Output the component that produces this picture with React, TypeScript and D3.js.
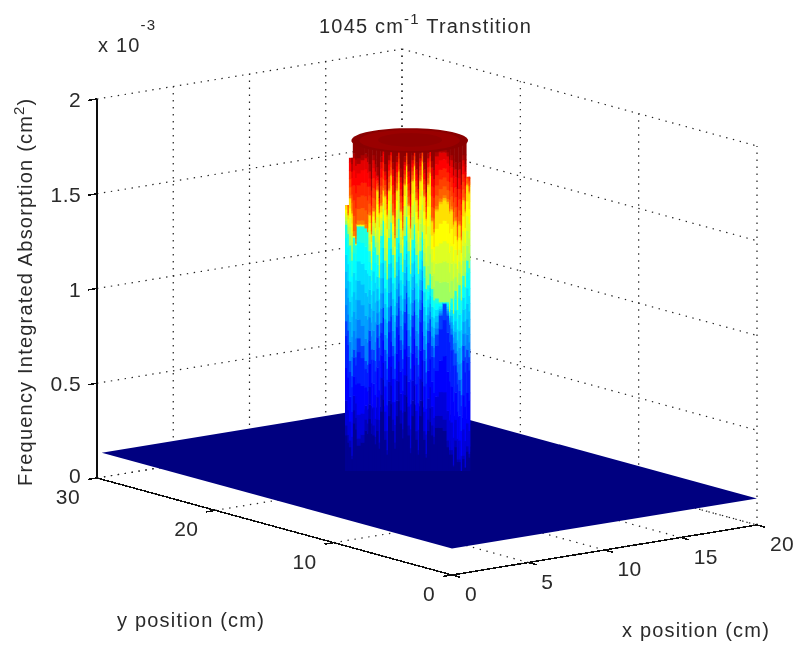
import React from "react";
import * as d3 from "d3";

const xTicks = [0, 5, 10, 15, 20];
const yTicks = [0, 10, 20, 30];
const zTicks = [0, 0.5, 1, 1.5, 2];
const zTickLabels = ["0", "0.5", "1", "1.5", "2"];
const plateZ = 0.14;
const plateYMax = 29.6;
const columnCenter = { x: 12.28, y: 19.4, r: 3.02, top: 1.8 };

// Heights (x 10^-3) of the colour transitions on each visible column of the peak, left to right
const columnTop = [1.54, 1.79, 1.88, 1.88, 1.88, 1.88, 1.88, 1.88, 1.88, 1.88, 1.88, 1.88, 1.88, 1.88, 1.88, 1.88, 1.88, 1.88, 1.88, 1.88, 1.88, 1.88, 1.88, 1.88, 1.88, 1.88, 1.88, 1.88, 1.88, 1.88, 1.87, 1.69];
const darkRedEdge = [1.72, 1.80, 1.79, 1.76, 1.78, 1.79, 1.72, 1.78, 1.70, 1.77, 1.72, 1.78, 1.73, 1.77, 1.69, 1.77, 1.72, 1.78, 1.73, 1.79, 1.73, 1.79, 1.74, 1.80, 1.82, 1.82, 1.80, 1.78, 1.73, 1.73, 1.78, 1.78];
const orangeEdge = [1.54, 1.58, 1.38, 1.44, 1.44, 1.42, 1.49, 1.51, 1.62, 1.54, 1.59, 1.62, 1.49, 1.62, 1.51, 1.65, 1.54, 1.67, 1.57, 1.67, 1.59, 1.65, 1.46, 1.52, 1.56, 1.58, 1.56, 1.52, 1.46, 1.44, 1.57, 1.65];
const greenEdge = [1.44, 1.33, 1.37, 1.43, 1.43, 1.42, 1.30, 1.38, 1.28, 1.38, 1.25, 1.37, 1.28, 1.37, 1.29, 1.38, 1.30, 1.36, 1.28, 1.30, 1.22, 1.12, 1.10, 1.05, 1.03, 1.03, 1.03, 1.05, 1.09, 1.12, 1.17, 1.25];
const cyanEdge = [0.93, 0.72, 0.78, 0.84, 0.80, 0.72, 0.88, 0.78, 0.91, 0.92, 0.78, 0.93, 0.80, 0.96, 0.83, 0.98, 0.80, 0.96, 0.80, 0.99, 0.78, 0.88, 0.80, 0.86, 0.96, 1.02, 0.96, 0.86, 0.76, 0.62, 0.80, 0.78];
const blueEdge = [0.38, 0.30, 0.46, 0.31, 0.33, 0.41, 0.49, 0.38, 0.41, 0.54, 0.35, 0.51, 0.41, 0.51, 0.46, 0.54, 0.38, 0.51, 0.35, 0.51, 0.35, 0.41, 0.38, 0.43, 0.43, 0.41, 0.30, 0.25, 0.30, 0.20, 0.22, 0.27];
// How far the narrow spike beside each column pushes its colours down (+) or up (-)
const spikeShift = [0.05, 0.08, 0.04, 0, 0, 0.02, 0.1, 0.06, 0.12, -0.08, 0.1, -0.08, 0.12, -0.1, 0.1, -0.1, 0.12, -0.08, 0.1, -0.1, 0.12, -0.06, 0.06, 0, 0, 0, 0.05, 0.08, 0.1, 0.08, 0.06, 0.04];
const bandLevels = [0, 0.04, 0.07, 0.17, 0.22, 0.4, 0.5, 0.66, 0.74, 0.9, 0.96, 1];
const levelCount = 32;

const jet = d3
  .scaleLinear<string>()
  .domain([0, 0.11, 0.36, 0.61, 0.86, 1])
  .range(["#000080", "#0000ff", "#00ffff", "#ffff00", "#ff0000", "#800000"]);

const originX = 452;
const originY = 575;
const xSX = d3.scaleLinear().domain([0, 20]).range([0, 305]);
const xSY = d3.scaleLinear().domain([0, 20]).range([0, -50]);
const ySX = d3.scaleLinear().domain([0, 30]).range([0, -355]);
const ySY = d3.scaleLinear().domain([0, 30]).range([0, -97]);
const zS = d3.scaleLinear().domain([0, 2]).range([0, -379]);
const project = (x: number, y: number, z: number): [number, number] => [
  originX + xSX(x) + ySX(y),
  originY + xSY(x) + ySY(y) + zS(z),
];
const columnBand = d3.scaleBand<number>().domain(d3.range(columnTop.length)).range([345, 470]);
const columnY = d3.scaleLinear().domain([0, 2]).range([497, 118]);
const poly = d3.line<[number, number]>();
const seg = (a: [number, number], b: [number, number]) => poly([a, b]) as string;

const FONT = "'Liberation Sans', Arial, sans-serif";

function ellipse(scale: number, dx = 0, dy = 0, z = columnCenter.top) {
  const pts = d3.range(0, 64).map((i) => {
    const t = (i / 64) * Math.PI * 2;
    return project(
      columnCenter.x + dx + columnCenter.r * scale * Math.cos(t),
      columnCenter.y + dy + columnCenter.r * scale * Math.sin(t),
      z
    );
  });
  return poly(pts) + "Z";
}

function stripRects(i: number, shift: number, x: number, width: number, key: string) {
  const e = [blueEdge[i], cyanEdge[i], greenEdge[i], orangeEdge[i], darkRedEdge[i]].map((v) => v - shift);
  const stops = [plateZ, e[0], e[0], e[1], e[1], e[2], e[2], e[3], e[3], e[4], e[4], 1.9];
  const toZ = d3.scaleLinear().domain(bandLevels).range(stops);
  const top = columnTop[i];
  return d3.range(levelCount).flatMap((k) => {
    const lo = k / levelCount;
    const hi = (k + 1) / levelCount;
    const z0 = Math.max(toZ(lo), plateZ);
    const z1 = Math.min(toZ(hi), top);
    if (z1 <= z0) return [];
    return [
      <rect
        key={`${key}-${k}`}
        x={x}
        width={width}
        y={columnY(z1)}
        height={columnY(z0) - columnY(z1) + 0.5}
        fill={jet((lo + hi) / 2)}
      />,
    ];
  });
}

export default function App() {
  const zTop = 2;
  const dotted = { stroke: "#222", strokeWidth: 1.2, strokeDasharray: "1.4 5.6", fill: "none" };
  const grid: string[] = [];
  xTicks.forEach((x) => {
    grid.push(seg(project(x, 0, 0), project(x, 30, 0)));
    grid.push(seg(project(x, 30, 0), project(x, 30, zTop)));
  });
  yTicks.forEach((y) => {
    grid.push(seg(project(0, y, 0), project(20, y, 0)));
    grid.push(seg(project(20, y, 0), project(20, y, zTop)));
  });
  zTicks.forEach((z) => {
    grid.push(seg(project(0, 30, z), project(20, 30, z)));
    grid.push(seg(project(20, 30, z), project(20, 0, z)));
  });

  const w = columnBand.bandwidth();
  const bands = columnTop.flatMap((_, i) => {
    const x = columnBand(i) as number;
    return [
      ...stripRects(i, 0, x, w + 0.4, `m${i}`),
      ...stripRects(i, spikeShift[i], x + w * 0.62, w * 0.4, `s${i}`),
    ];
  });

  const plate = [project(0, 0, plateZ), project(20, 0, plateZ), project(20, plateYMax, plateZ), project(0, plateYMax, plateZ)];

  return (
    <svg width={798} height={650} style={{ position: "absolute", left: 0, top: 0, background: "#fff" }} fontFamily={FONT} fill="#2a2a2a">
      <defs>
        <filter id="soft" x="-5%" y="-5%" width="110%" height="110%">
          <feGaussianBlur stdDeviation="0.5" />
        </filter>
      </defs>
      <g filter="url(#soft)">
        <g>
          {grid.map((d, i) => (
            <path key={i} d={d} {...dotted} />
          ))}
        </g>
        <path d={poly(plate) + "Z"} fill="#000080" />
        <g>{bands}</g>
        <path d={ellipse(1)} fill="#8a0000" />
        <path d={ellipse(0.86)} fill="#9a0000" />
        <path d={ellipse(0.55, 0.1, 0.1)} fill="#900000" />

        <g stroke="#111" strokeWidth={1.5} fill="none" shapeRendering="crispEdges">
          <path d={seg(project(0, 30, 0), project(0, 30, zTop))} />
          <path d={seg(project(0, 0, 0), project(0, 30, 0))} />
          <path d={seg(project(0, 0, 0), project(20, 0, 0))} />
          {zTicks.map((z) => (
            <path key={z} d={seg(project(0, 30, z), project(-0.6, 30, z))} />
          ))}
          {xTicks.map((x) => (
            <path key={x} d={seg(project(x, 0, 0), project(x, -0.7, 0))} />
          ))}
          {yTicks.map((y) => (
            <path key={y} d={seg(project(0, y, 0), project(-0.6, y, 0))} />
          ))}
        </g>

        <g fontSize={21} letterSpacing={0.4}>
          {zTicks.map((z, i) => {
            const [px, py] = project(0, 30, z);
            return (
              <text key={z} x={px - 16} y={py + (z === 0 ? 5 : 8)} textAnchor="end">
                {zTickLabels[i]}
              </text>
            );
          })}
          {xTicks.map((x) => {
            const [px, py] = project(x, 0, 0);
            return (
              <text key={x} x={px + 13} y={py + 26}>
                {x}
              </text>
            );
          })}
          {yTicks.map((y) => {
            const [px, py] = project(0, y, 0);
            return (
              <text key={y} x={px - 17} y={py + 26} textAnchor="end">
                {y}
              </text>
            );
          })}
        </g>

        <g letterSpacing={1.2} fontSize={20}>
          <text x={319} y={33}>
            1045 cm
            <tspan dy={-9} fontSize={15}>
              -1
            </tspan>
            <tspan dy={9}> Transtition</tspan>
          </text>
          <text x={98} y={52}>
            x 10
            <tspan dy={-22} fontSize={15}>
              -3
            </tspan>
          </text>
          <text x={117} y={627}>
            y position (cm)
          </text>
          <text x={622} y={637}>
            x position (cm)
          </text>
          <text transform="translate(32,486) rotate(-90)">
            Frequency Integrated Absorption (cm
            <tspan dy={-8} fontSize={15}>
              2
            </tspan>
            <tspan dy={8}>)</tspan>
          </text>
        </g>
      </g>
    </svg>
  );
}
